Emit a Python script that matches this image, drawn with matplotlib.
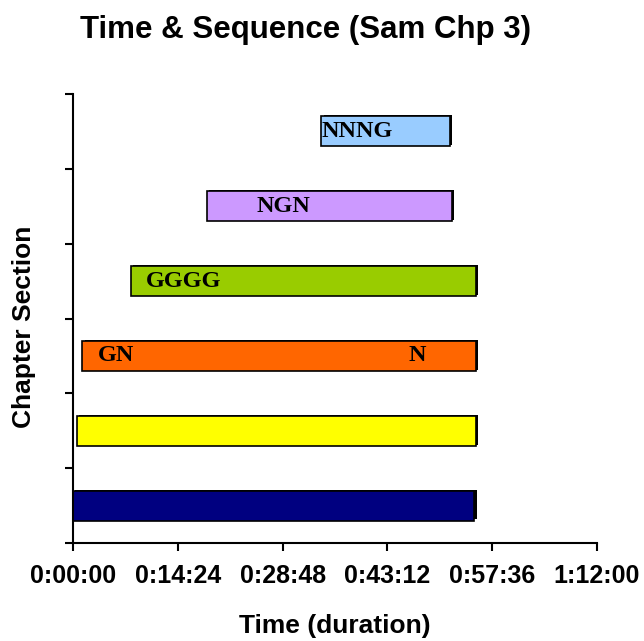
import matplotlib
matplotlib.use("Agg")
import matplotlib.pyplot as plt
import matplotlib.patheffects as pe
from matplotlib.ticker import FuncFormatter, MultipleLocator

# one bar per chapter section, bottom to top; times in seconds
sections = ["1", "2", "3", "4", "5", "6"]
start_sec = [0, 33, 77, 476, 1105, 2048]
end_sec = [3310, 3320, 3320, 3320, 3125, 3110]
colors = ["#000080", "#FFFF00", "#FF6600", "#99CC00", "#CC99FF", "#99CCFF"]

# sequence annotations: (section index, time in seconds, text)
notes = [(2, 201, "GN"), (2, 2768, "N"), (3, 600, "GGGG"),
         (4, 1512, "NGN"), (5, 2052, "NNNG")]

SANS = ["Liberation Sans", "DejaVu Sans"]


def hms(x, _pos):
    x = int(round(x))
    return f"{x // 3600}:{(x % 3600) // 60:02d}:{x % 60:02d}"


def main() -> None:
    fig = plt.figure(figsize=(6.44, 6.41), dpi=100)
    ax = fig.add_axes([73 / 644, 1 - 543 / 641, 524 / 644, 449 / 641])

    ypos = [i + 0.5 for i in range(len(sections))]
    widths = [e - s for s, e in zip(start_sec, end_sec)]
    bars = ax.barh(ypos, widths, left=start_sec, height=0.4, color=colors,
                   edgecolor="black", linewidth=1.2)
    for b in bars:
        b.set_path_effects([pe.SimplePatchShadow(offset=(1.6, 0.8), shadow_rgbFace="black", alpha=1),
                            pe.Normal()])

    for idx, t, txt in notes:
        ax.text(t, ypos[idx], txt, ha="left", va="center", family="Liberation Serif",
                fontweight="bold", fontsize=17.5, color="black")

    ax.set_xlim(0, 4320)
    ax.set_ylim(0, 6)
    ax.xaxis.set_major_locator(MultipleLocator(864))
    ax.xaxis.set_major_formatter(FuncFormatter(hms))
    ax.set_yticks(range(7))
    ax.set_yticklabels([])
    ax.tick_params(axis="both", direction="out", length=6, width=1.5, color="black")
    ax.tick_params(axis="x", pad=9)
    for lab in ax.get_xticklabels():
        lab.set_family(SANS)
        lab.set_fontweight("bold")
        lab.set_fontsize(18)

    ax.spines[["top", "right"]].set_visible(False)
    ax.spines[["left", "bottom"]].set_linewidth(1.5)

    ax.set_xlabel("Time (duration)", family=SANS, fontweight="bold", fontsize=19)
    ax.xaxis.set_label_coords(0.5, -0.158)
    ax.set_ylabel("Chapter Section", family=SANS, fontweight="bold", fontsize=19)
    ax.yaxis.set_label_coords(-0.07, 0.481)

    fig.text(0.474, 1 - 30 / 641, "Time & Sequence (Sam Chp 3)", ha="center", va="center",
             family="Liberation Sans", fontweight="bold", fontsize=22.5)

    fig.savefig("out.png", dpi=100)


if __name__ == "__main__":
    main()
